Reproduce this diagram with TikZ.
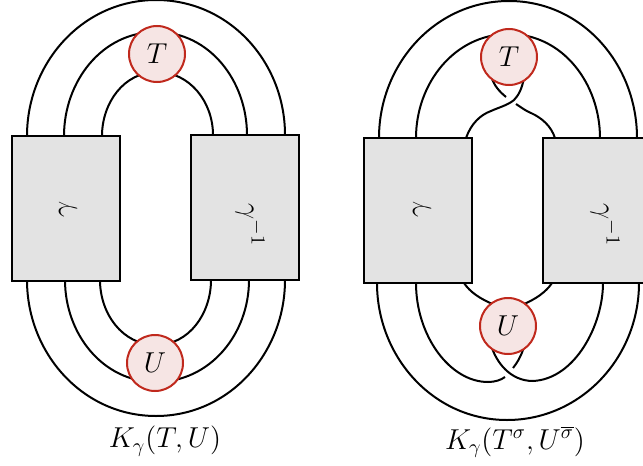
\documentclass[tikz,border=0pt]{standalone}
\usepackage{amsmath}
\usepackage{xcolor}
\usetikzlibrary{positioning,calc}
\definecolor{tanglered}{HTML}{C0291D}
\definecolor{tanglefill}{HTML}{F6E5E4}
\definecolor{boxgray}{HTML}{E3E3E3}
\begin{document}
\begin{tikzpicture}[
	x=0.5pt,y=-0.5pt,
	strand/.style={line width=1pt, color=black},
	braid/.style={draw, line width=1pt, fill=boxgray, minimum width=54pt, minimum height=72.5pt, inner sep=0pt},
	tangle/.style={circle, draw=tanglered, line width=1pt, fill=tanglefill, minimum size=28pt, inner sep=0pt, font=\Large},
	braid_text/.style={font=\Large, inner sep=0pt},
	caption_text/.style={font=\fontsize{14.8}{18}\selectfont}
	]
	
	\useasboundingbox (0,0) rectangle (643,466);
	
	% --- Left diagram ---
	% Top strands
	\coordinate (topA) at (156,0);
	\coordinate (topB) at (156,32);
	\coordinate (topC) at (157,72);
	\draw[strand] (27,136) to[out=90,in=180] (topA) to[out=0,in=90] (285,135);
	\draw[strand] (64,136) to[out=90,in=180] (topB) to[out=0,in=90] (247,135);
	\draw[strand] (102,136) to[out=90,in=180] (topC) to[out=0,in=90] (213,135);
	
	% Bottom strands
	\coordinate (botA) at (156,416);
	\coordinate (botB) at (156,382);
	\coordinate (botC) at (156,345);
	\draw[strand] (27,280) to[out=-90,in=180] (botA) to[out=0,in=-90] (285,280);
	\draw[strand] (65,280) to[out=-90,in=180] (botB) to[out=0,in=-90] (249,280);
	\draw[strand] (100,280) to[out=-90,in=180] (botC) to[out=0,in=-90] (211,280);
	
	\node[braid] (GL) at (66,208) {};
	\node[braid] (GR) at (245,207.5) {};
	\node[braid_text, rotate=90] (GLtext) at (68,209) {$\gamma$};
	\node[braid_text, rotate=-90] (GRtext) at (250,225) {$\gamma^{-1}$};
	\node[tangle] (T) at (157,54) {$T$};
	\node[tangle] (U) at (155,363) {$U$};
	\node[caption_text] (KL) at (165,441) {$K_\gamma(T,U)$};
	
	% --- Right diagram ---
	% Top strands
	\coordinate (upA) at (509,1);
	\coordinate (upB) at (509,34);
	\draw[strand] (379,138) to[out=90,in=180] (upA) to[out=0,in=90] (637,138);
	\draw[strand] (416,138) to[out=90,in=180] (upB) to[out=0,in=90] (600,138);
	
	% Crossing under T
	\draw[strand] (466,138) .. controls (471,124) and (480,115) .. (491,111)
		.. controls (500,107) and (508,105) .. (514,100)
		.. controls (519,95) and (522,88) .. (524,78);
	\draw[strand] (491,76) .. controls (494,86) and (500,92) .. (506,97);
	\draw[strand] (516,104) .. controls (522,108) and (526,111) .. (531,113)
		.. controls (542,118) and (551,126) .. (555,138);
	
	% Bottom strands
	\coordinate (lowA) at (507,420);
	\draw[strand] (377,283) to[out=-90,in=180] (lowA) to[out=0,in=-90] (639,283);
	\draw[strand] (464,283) .. controls (470,292) and (480,299) .. (495,305);
	\draw[strand] (552,283) .. controls (546,292) and (536,299) .. (522,305);
	
	% Crossing under U
	\draw[strand] (416,283) .. controls (416,336) and (450,382) .. (488,382)
		.. controls (495,382) and (501,380) .. (505,377);
	\draw[strand] (491,345) .. controls (496,362) and (510,381) .. (533,381)
		.. controls (575,379) and (603,325) .. (603,283);
	\draw[strand] (523,350) .. controls (520,358) and (517,363) .. (513,368);
	
	\node[braid] (HL) at (418,210.5) {};
	\node[braid] (HR) at (597,210) {};
	\node[braid_text, rotate=90] (HLtext) at (422,209) {$\gamma$};
	\node[braid_text, rotate=-90] (HRtext) at (605,225) {$\gamma^{-1}$};
	\node[tangle] (V) at (509,57) {$T$};
	\node[tangle] (W) at (508,326) {$U$};
	\node[caption_text] (KR) at (515,442) {$K_\gamma(T^\sigma,U^{\overline{\sigma}})$};
\end{tikzpicture}
\end{document}
